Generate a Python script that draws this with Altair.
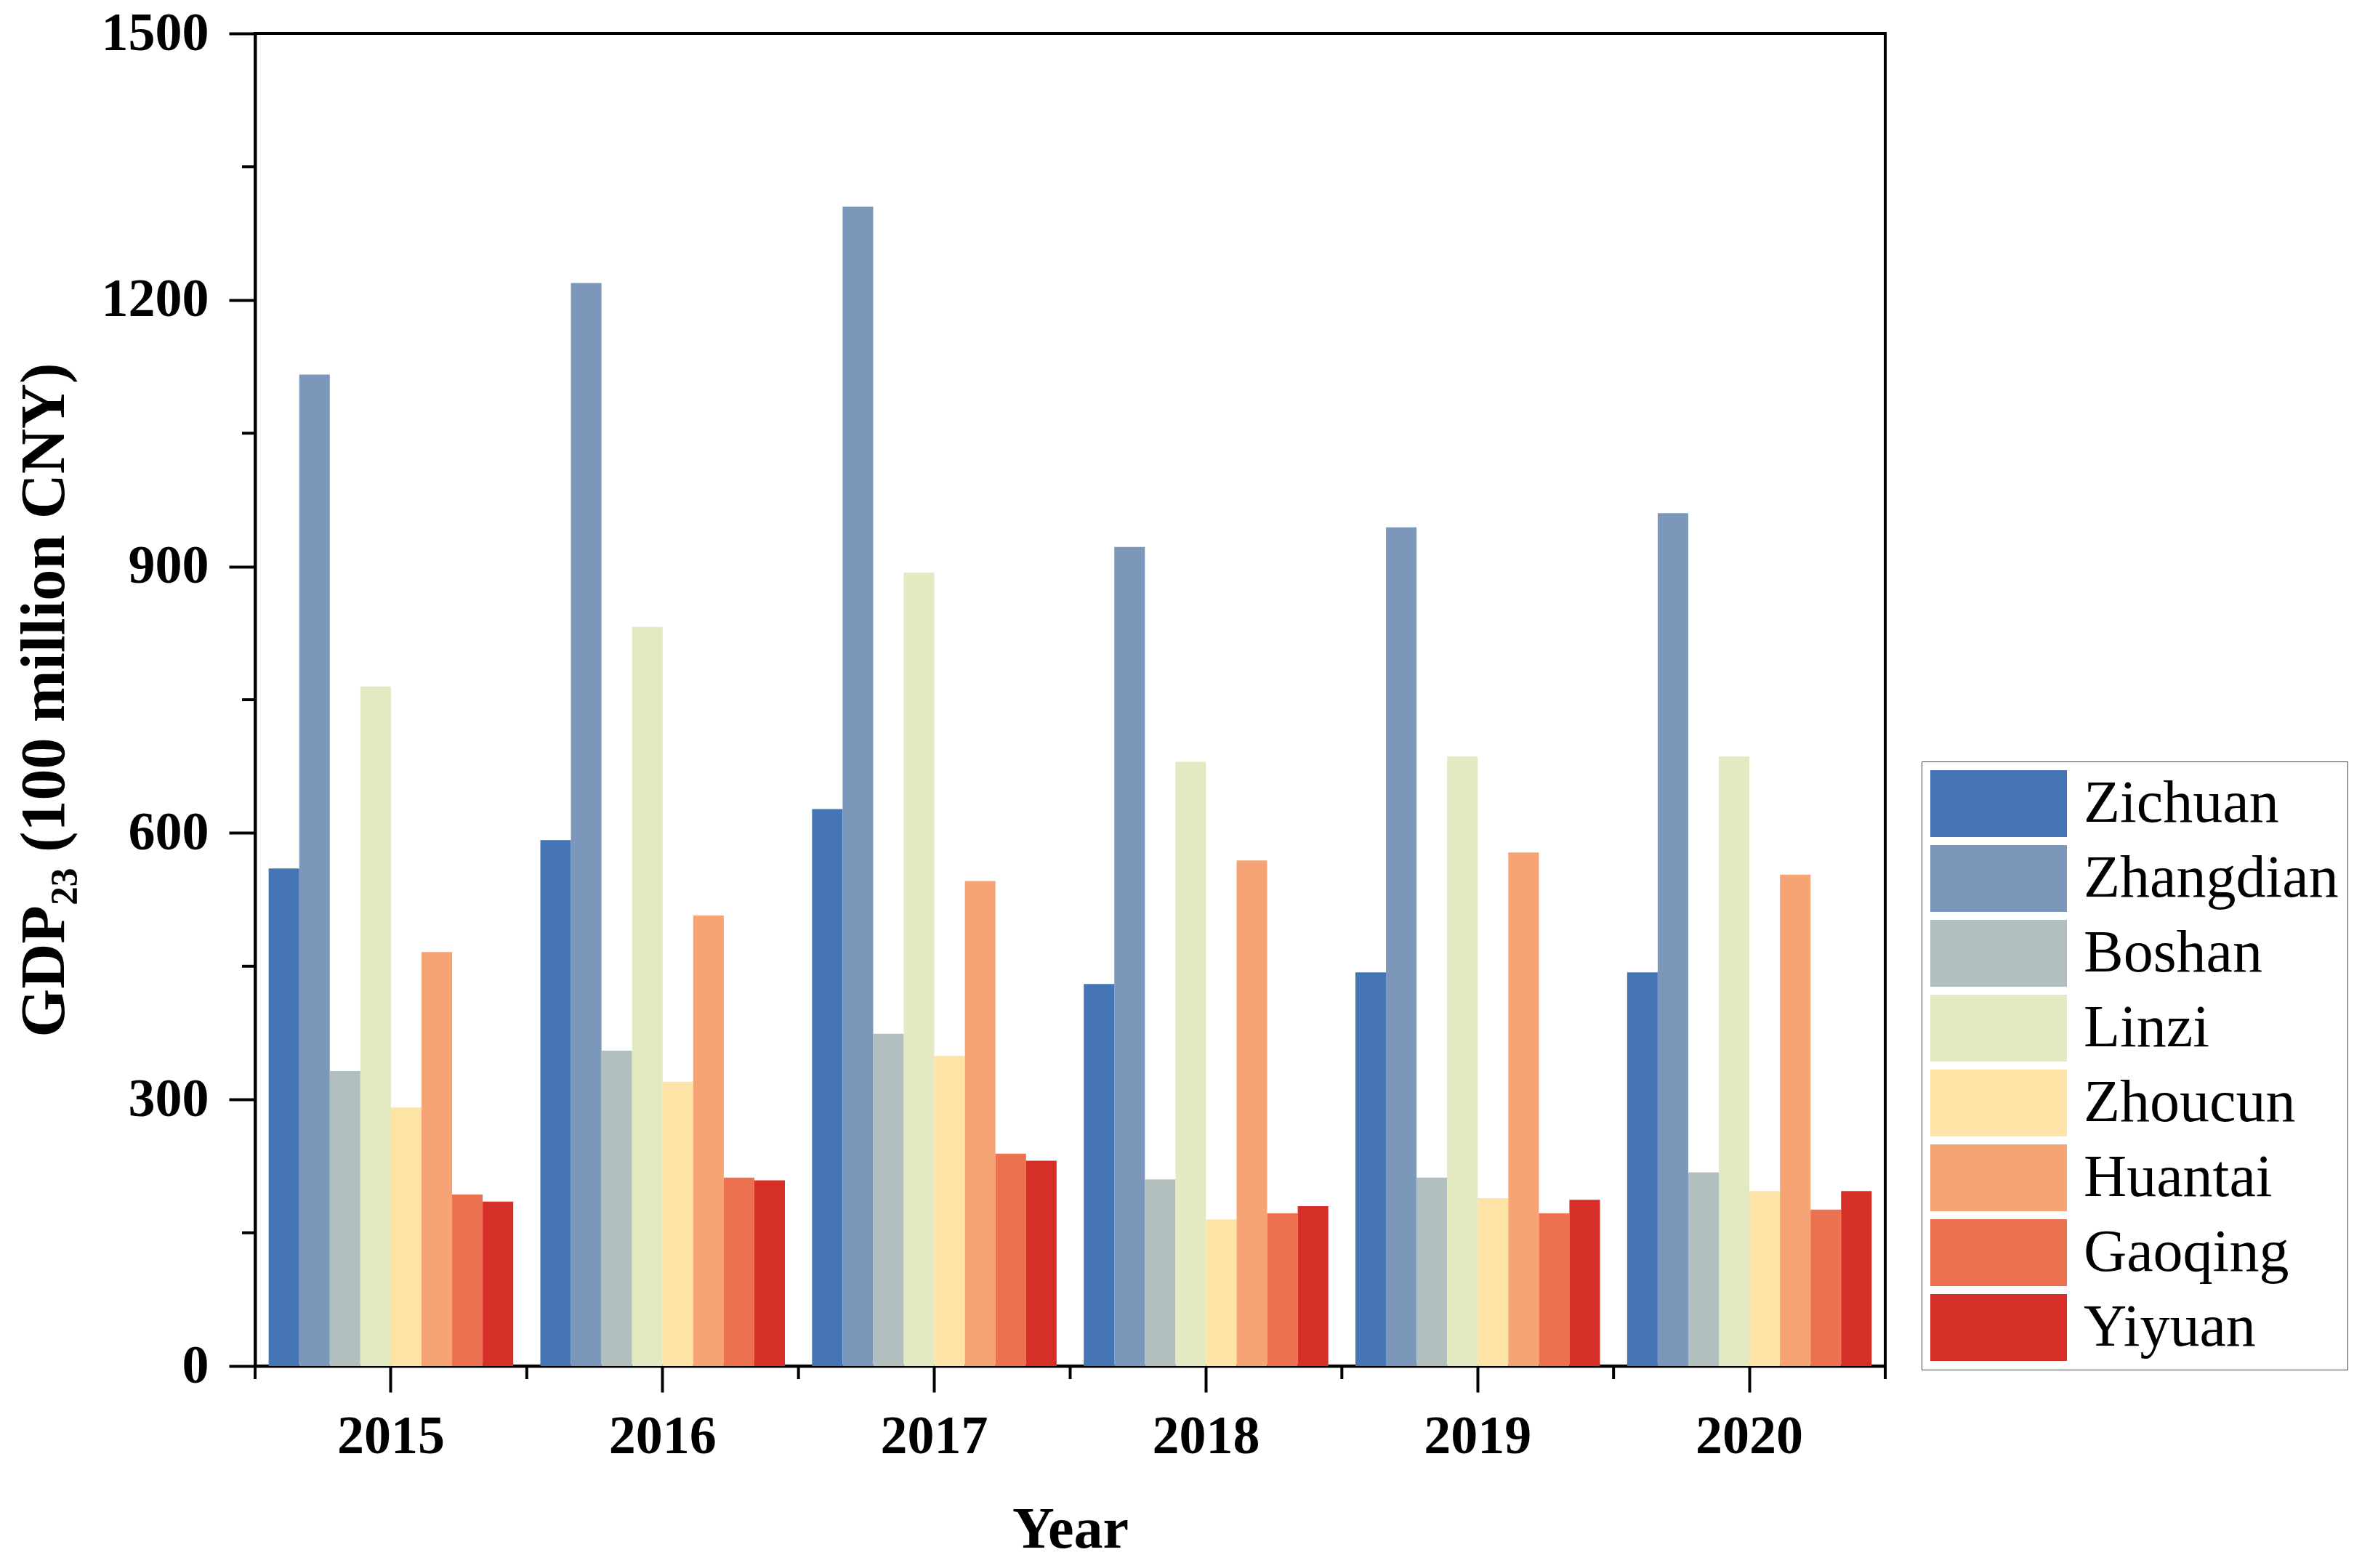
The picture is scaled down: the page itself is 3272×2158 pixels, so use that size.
import altair as alt
import pandas as pd

years = ["2015", "2016", "2017", "2018", "2019", "2020"]
districts = ["Zichuan", "Zhangdian", "Boshan", "Linzi", "Zhoucun", "Huantai", "Gaoqing", "Yiyuan"]
colors = ["#4575B4", "#7B98BB", "#B1BFBF", "#E3E9C0", "#FEE3A6", "#F6A475", "#EC7150", "#D62F27"]

zichuan = [560, 592, 627, 430, 443, 443]
zhangdian = [1116, 1219, 1305, 922, 944, 960]
boshan = [332, 355, 374, 210, 212, 218]
linzi = [765, 832, 893, 680, 686, 686]
zhoucun = [291, 320, 349, 165, 189, 197]
huantai = [466, 507, 546, 569, 578, 553]
gaoqing = [193, 212, 239, 172, 172, 176]
yiyuan = [185, 209, 231, 180, 187, 197]

y_major = [0, 300, 600, 900, 1200, 1500]
y_minor = [150, 450, 750, 1050, 1350]

series = [zichuan, zhangdian, boshan, linzi, zhoucun, huantai, gaoqing, yiyuan]
rows = []
for d, vals in zip(districts, series):
    for yr, v in zip(years, vals):
        rows.append({"year": yr, "district": d, "gdp": v})
df = pd.DataFrame(rows)

W, H = 2243, 1834
FONT = "Liberation Serif"

x_axis = alt.Axis(
    title="Year", labelFont=FONT, labelFontWeight="bold", labelFontSize=74,
    labelColor="black", titleFont=FONT, titleFontWeight="bold", titleFontSize=80,
    titleColor="black", domainColor="black", domainWidth=4, tickColor="black",
    tickWidth=4, tickSize=36, labelPadding=25, titlePadding=52, labelAngle=0, grid=False,
)
y_axis = alt.Axis(
    title="GDP₂₃ (100 million CNY)", values=y_major, format="d", labelFont=FONT,
    labelFontWeight="bold", labelFontSize=74, labelColor="black", titleFont=FONT,
    titleFontWeight="bold", titleFontSize=86, titleColor="black", domainColor="black",
    domainWidth=4, tickColor="black", tickWidth=4, tickSize=36, labelPadding=28,
    titlePadding=46, grid=False,
)
x_scale = alt.Scale(paddingInner=0, paddingOuter=0)
y_scale = alt.Scale(domain=[0, 1500], nice=False)

bars = alt.Chart(df).mark_bar().encode(
    x=alt.X("year:N", sort=years, scale=x_scale, axis=x_axis),
    xOffset=alt.XOffset("district:N", sort=districts,
                        scale=alt.Scale(paddingInner=0, paddingOuter=0.444)),
    y=alt.Y("gdp:Q", scale=y_scale, axis=y_axis),
    color=alt.Color(
        "district:N", sort=districts,
        scale=alt.Scale(domain=districts, range=colors),
        legend=alt.Legend(
            title=None, orient="none", legendX=2293, legendY=1002,
            symbolType="M-1,-1H3.087V1H-1Z", symbolSize=8464, symbolStrokeWidth=0,
            symbolOpacity=1, labelFont=FONT, labelFontSize=82, labelFontWeight="normal",
            labelColor="black", labelOffset=119, rowPadding=11, padding=12,
            strokeColor="#444444", labelLimit=0,
        ),
    ),
)

minor_y = alt.Chart(pd.DataFrame({"gdp": y_minor})).mark_rule(
    color="black", strokeWidth=4
).encode(
    y=alt.Y("gdp:Q", scale=y_scale, axis=y_axis),
    x=alt.value(-18), x2=alt.value(0),
)

df_years = pd.DataFrame({"year": years})
minor_x = alt.Chart(df_years).mark_rule(color="black", strokeWidth=4).encode(
    x=alt.X("year:N", sort=years, scale=x_scale, axis=x_axis, bandPosition=0),
    y=alt.value(H), y2=alt.value(H + 18),
)
minor_x_end = alt.Chart(pd.DataFrame({"year": years[-1:]})).mark_rule(
    color="black", strokeWidth=4
).encode(
    x=alt.X("year:N", sort=years, scale=x_scale, axis=x_axis, bandPosition=1),
    y=alt.value(H), y2=alt.value(H + 18),
)

chart = (
    alt.layer(bars, minor_y, minor_x, minor_x_end)
    .properties(
        width=W, height=H,
        autosize=alt.AutoSizeParams(type="none"),
        padding={"left": 343, "top": 38, "right": 670, "bottom": 270},
    )
    .configure(background="white", font=FONT)
    .configure_view(stroke="black", strokeWidth=4)
    .configure_legend(labelFont=FONT, labelFontSize=82, labelColor="black")
)

chart.save("out.html", embed_options={"renderer": "svg", "actions": False})
